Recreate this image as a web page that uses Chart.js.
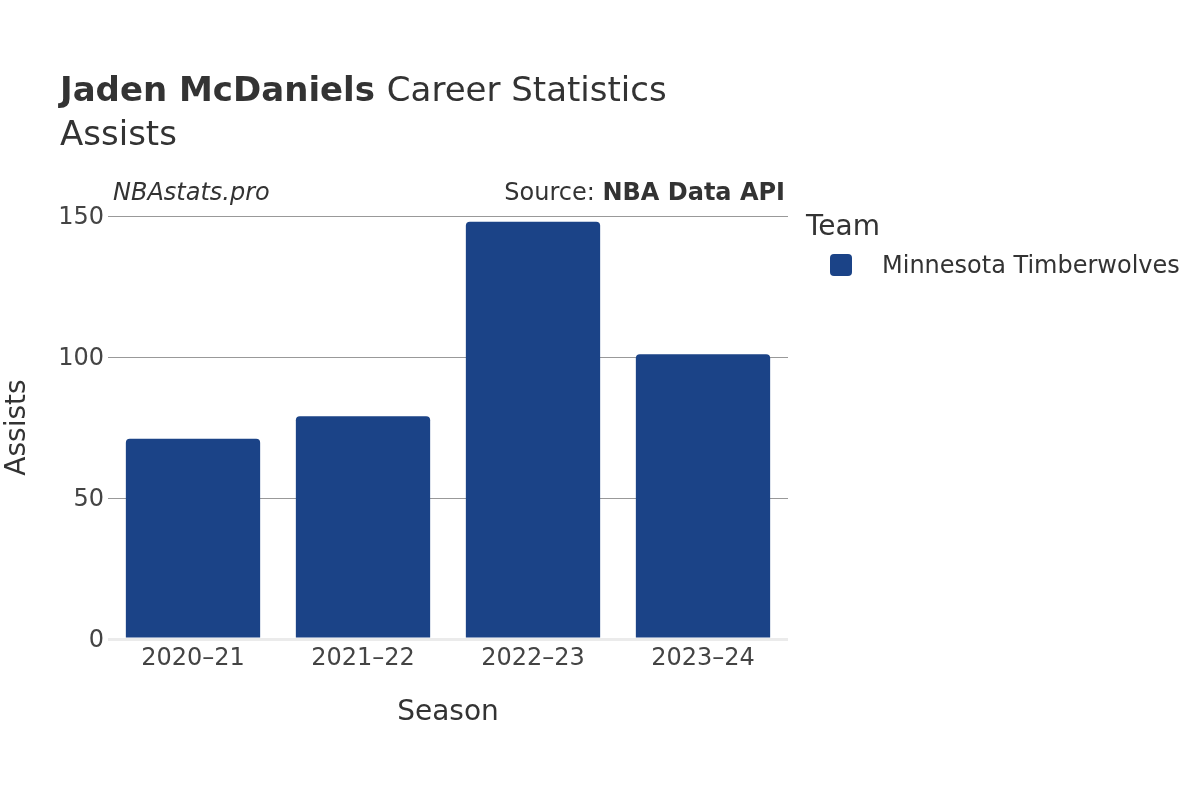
<!DOCTYPE html>
<html>
<head>
<meta charset="utf-8">
<script src="https://cdn.jsdelivr.net/npm/chart.js@4"></script>
<style>
  html, body { margin: 0; padding: 0; background: #fff; }
  #wrap { width: 1200px; height: 800px; position: relative; }
</style>
</head>
<body>
<div id="wrap"><canvas id="graficoAsistencias"></canvas></div>
<script>
// datos del grafico
const temporadas = ['2020\u201321', '2021\u201322', '2022\u201323', '2023\u201324'];
const asistencias = [71, 79, 148, 101];
const equipo = 'Minnesota Timberwolves';
const marcasY = [0, 50, 100, 150];

const colorBarra = '#1b4387';
const fuente = '"DejaVu Sans", sans-serif';

// textos fuera del area del grafico (titulos, leyenda)
const textosExtra = {
    id: 'textosExtra',
    afterDraw(chart) {
        const ctx = chart.ctx;
        const area = chart.chartArea;
        ctx.save();
        ctx.fillStyle = '#333';
        ctx.textBaseline = 'alphabetic';

        // titulo
        ctx.textAlign = 'left';
        ctx.font = 'bold 34px ' + fuente;
        ctx.fillText('Jaden McDaniels', 60, 101);
        let w = ctx.measureText('Jaden McDaniels ').width;
        ctx.font = '34px ' + fuente;
        ctx.fillText('Career Statistics', 60 + w, 101);
        ctx.fillText('Assists', 60, 145);

        // marca y fuente
        ctx.font = 'italic 24px ' + fuente;
        ctx.fillText('NBAstats.pro', 113, 200);
        ctx.textAlign = 'right';
        ctx.font = 'bold 24px ' + fuente;
        ctx.fillText('NBA Data API', 785, 200);
        let w2 = ctx.measureText('NBA Data API').width;
        ctx.font = '24px ' + fuente;
        ctx.fillText('Source: ', 785 - w2, 200);

        // titulos de ejes
        ctx.textAlign = 'center';
        ctx.textBaseline = 'middle';
        ctx.font = '28px ' + fuente;
        ctx.fillText('Season', (area.left + area.right) / 2, 713);
        ctx.save();
        ctx.translate(18, (area.top + area.bottom) / 2);
        ctx.rotate(-Math.PI / 2);
        ctx.fillText('Assists', 0, 0);
        ctx.restore();

        // leyenda
        ctx.textAlign = 'left';
        ctx.fillText('Team', 806, 228);
        ctx.fillStyle = colorBarra;
        ctx.beginPath();
        ctx.roundRect(830, 254, 22, 22, 4);
        ctx.fill();
        ctx.fillStyle = '#333';
        ctx.font = '24px ' + fuente;
        ctx.fillText(equipo, 882, 267);
        ctx.restore();
    }
};

new Chart(document.getElementById('graficoAsistencias'), {
    type: 'bar',
    data: {
        labels: temporadas,
        datasets: [{
            label: equipo,
            data: asistencias,
            backgroundColor: colorBarra,
            borderRadius: 4,
            borderSkipped: 'start',
            barPercentage: 0.79,
            categoryPercentage: 1
        }]
    },
    options: {
        responsive: true,
        maintainAspectRatio: false,
        animation: false,
        layout: { padding: { left: 0, right: 412, top: 216, bottom: 0 } },
        plugins: {
            legend: { display: false },
            tooltip: { enabled: false }
        },
        scales: {
            x: {
                grid: { display: false, drawTicks: false },
                border: { display: false },
                ticks: {
                    color: '#444',
                    font: { family: fuente, size: 24 },
                    padding: 5,
                    maxRotation: 0
                },
                afterFit: (s) => { s.height = 161; }
            },
            y: {
                min: 0,
                max: 150,
                afterBuildTicks: (s) => { s.ticks = marcasY.map(v => ({ value: v })); },
                grid: {
                    drawTicks: false,
                    color: (c) => c.tick && c.tick.value === 0 ? '#ebebeb' : '#999',
                    lineWidth: (c) => c.tick && c.tick.value === 0 ? 3 : 1
                },
                border: { display: false },
                ticks: {
                    color: '#444',
                    font: { family: fuente, size: 24 },
                    padding: 4,
                    labelOffset: 2
                },
                afterFit: (s) => { s.width = 108; }
            }
        }
    },
    plugins: [textosExtra]
});
</script>
</body>
</html>
